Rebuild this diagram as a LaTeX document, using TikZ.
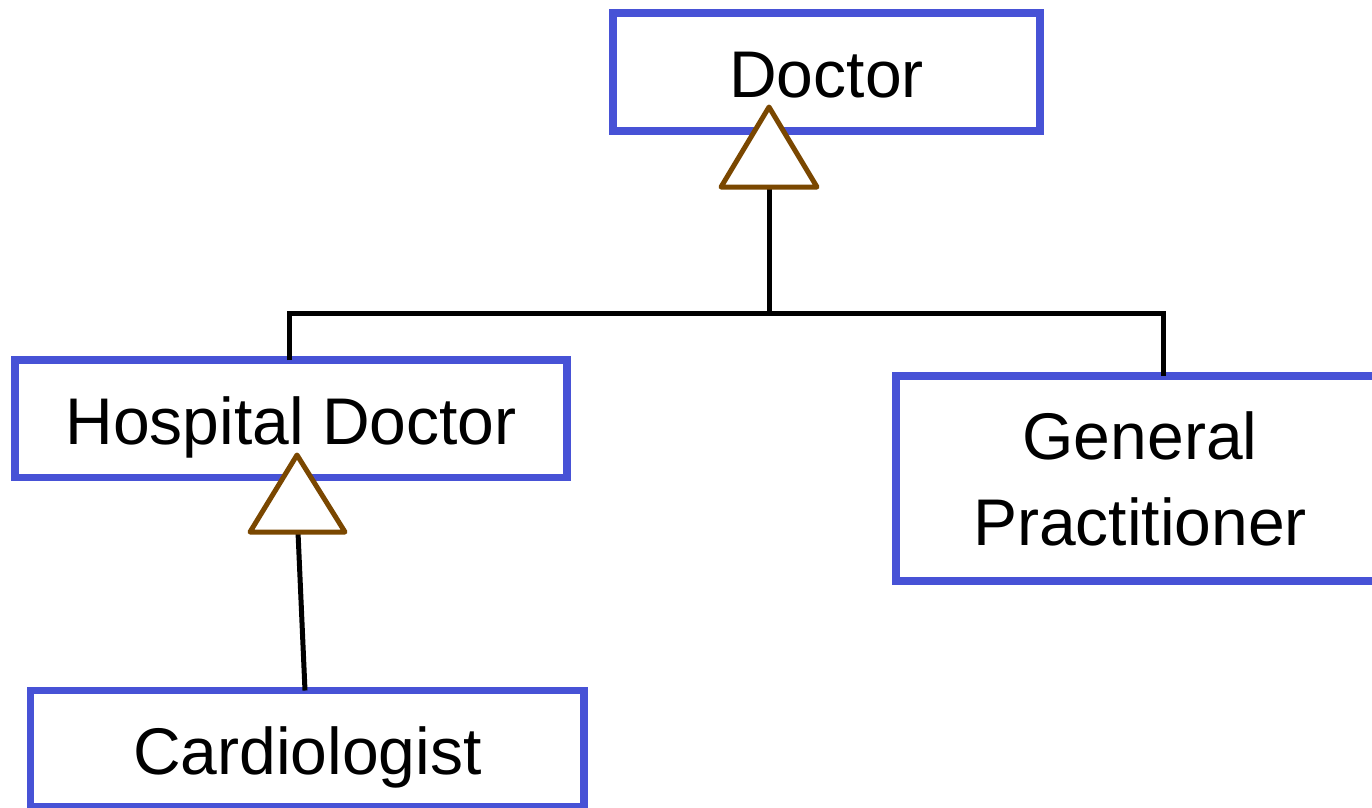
\documentclass[tikz,border=0pt]{standalone}
\usepackage{fontspec}
\setmainfont{Liberation Sans}
\usetikzlibrary{shadows}
\definecolor{classblue}{RGB}{71,82,214}
\definecolor{arrowbrown}{RGB}{122,71,0}
\begin{document}
\begin{tikzpicture}[x=1pt,y=-1pt,
  classbox/.style={draw=classblue, line width=7.5pt, fill=white, rectangle,
    inner sep=0pt, align=center, font=\fontsize{66}{86}\selectfont},
  oneline/.style={text height=51pt, text depth=0pt},
  conn/.style={draw=black, line width=5pt},
  inherit/.style={draw=arrowbrown, line width=5pt, fill=white, line join=round,
    drop shadow={opacity=0.12, shadow xshift=0pt, shadow yshift=-2pt}}]
\clip (0,0) rectangle (1372,807);
\fill[white] (0,0) rectangle (1372,807);

% class boxes
\node[classbox, oneline, minimum width=427pt, minimum height=118pt] (D) at (826.5,72) {Doctor};
\node[classbox, oneline, minimum width=552pt, minimum height=117.5pt] (H) at (291,418.75) {Hospital Doctor};
\node[classbox, minimum width=488pt, minimum height=205pt] (G) at (1140,478.5) {General\\Practitioner};
\node[classbox, oneline, minimum width=553.5pt, minimum height=116.5pt] (C) at (307.25,748.75) {Cardiologist};

% attachment points of the generalisation tree
\coordinate (apexD) at (769,107);
\coordinate (baseD) at (769,187);
\coordinate (bus) at (769,313);
\coordinate (hTop) at (289,360);
\coordinate (gTop) at (1163,376);
\coordinate (apexH) at (297,455);
\coordinate (baseH) at (298,532);
\coordinate (cTop) at (305,690.5);

% connectors
\draw[conn] (baseD) -- (bus);
\draw[conn] (hTop) |- (bus) -| (gTop);
\draw[conn] (baseH) -- (cTop);

% hollow inheritance triangles
\draw[inherit] (apexD) -- ++(-48,80) -- ++(96,0) -- cycle;
\draw[inherit] (apexH) -- ++(-47,77) -- ++(95,0) -- cycle;
\end{tikzpicture}
\end{document}
